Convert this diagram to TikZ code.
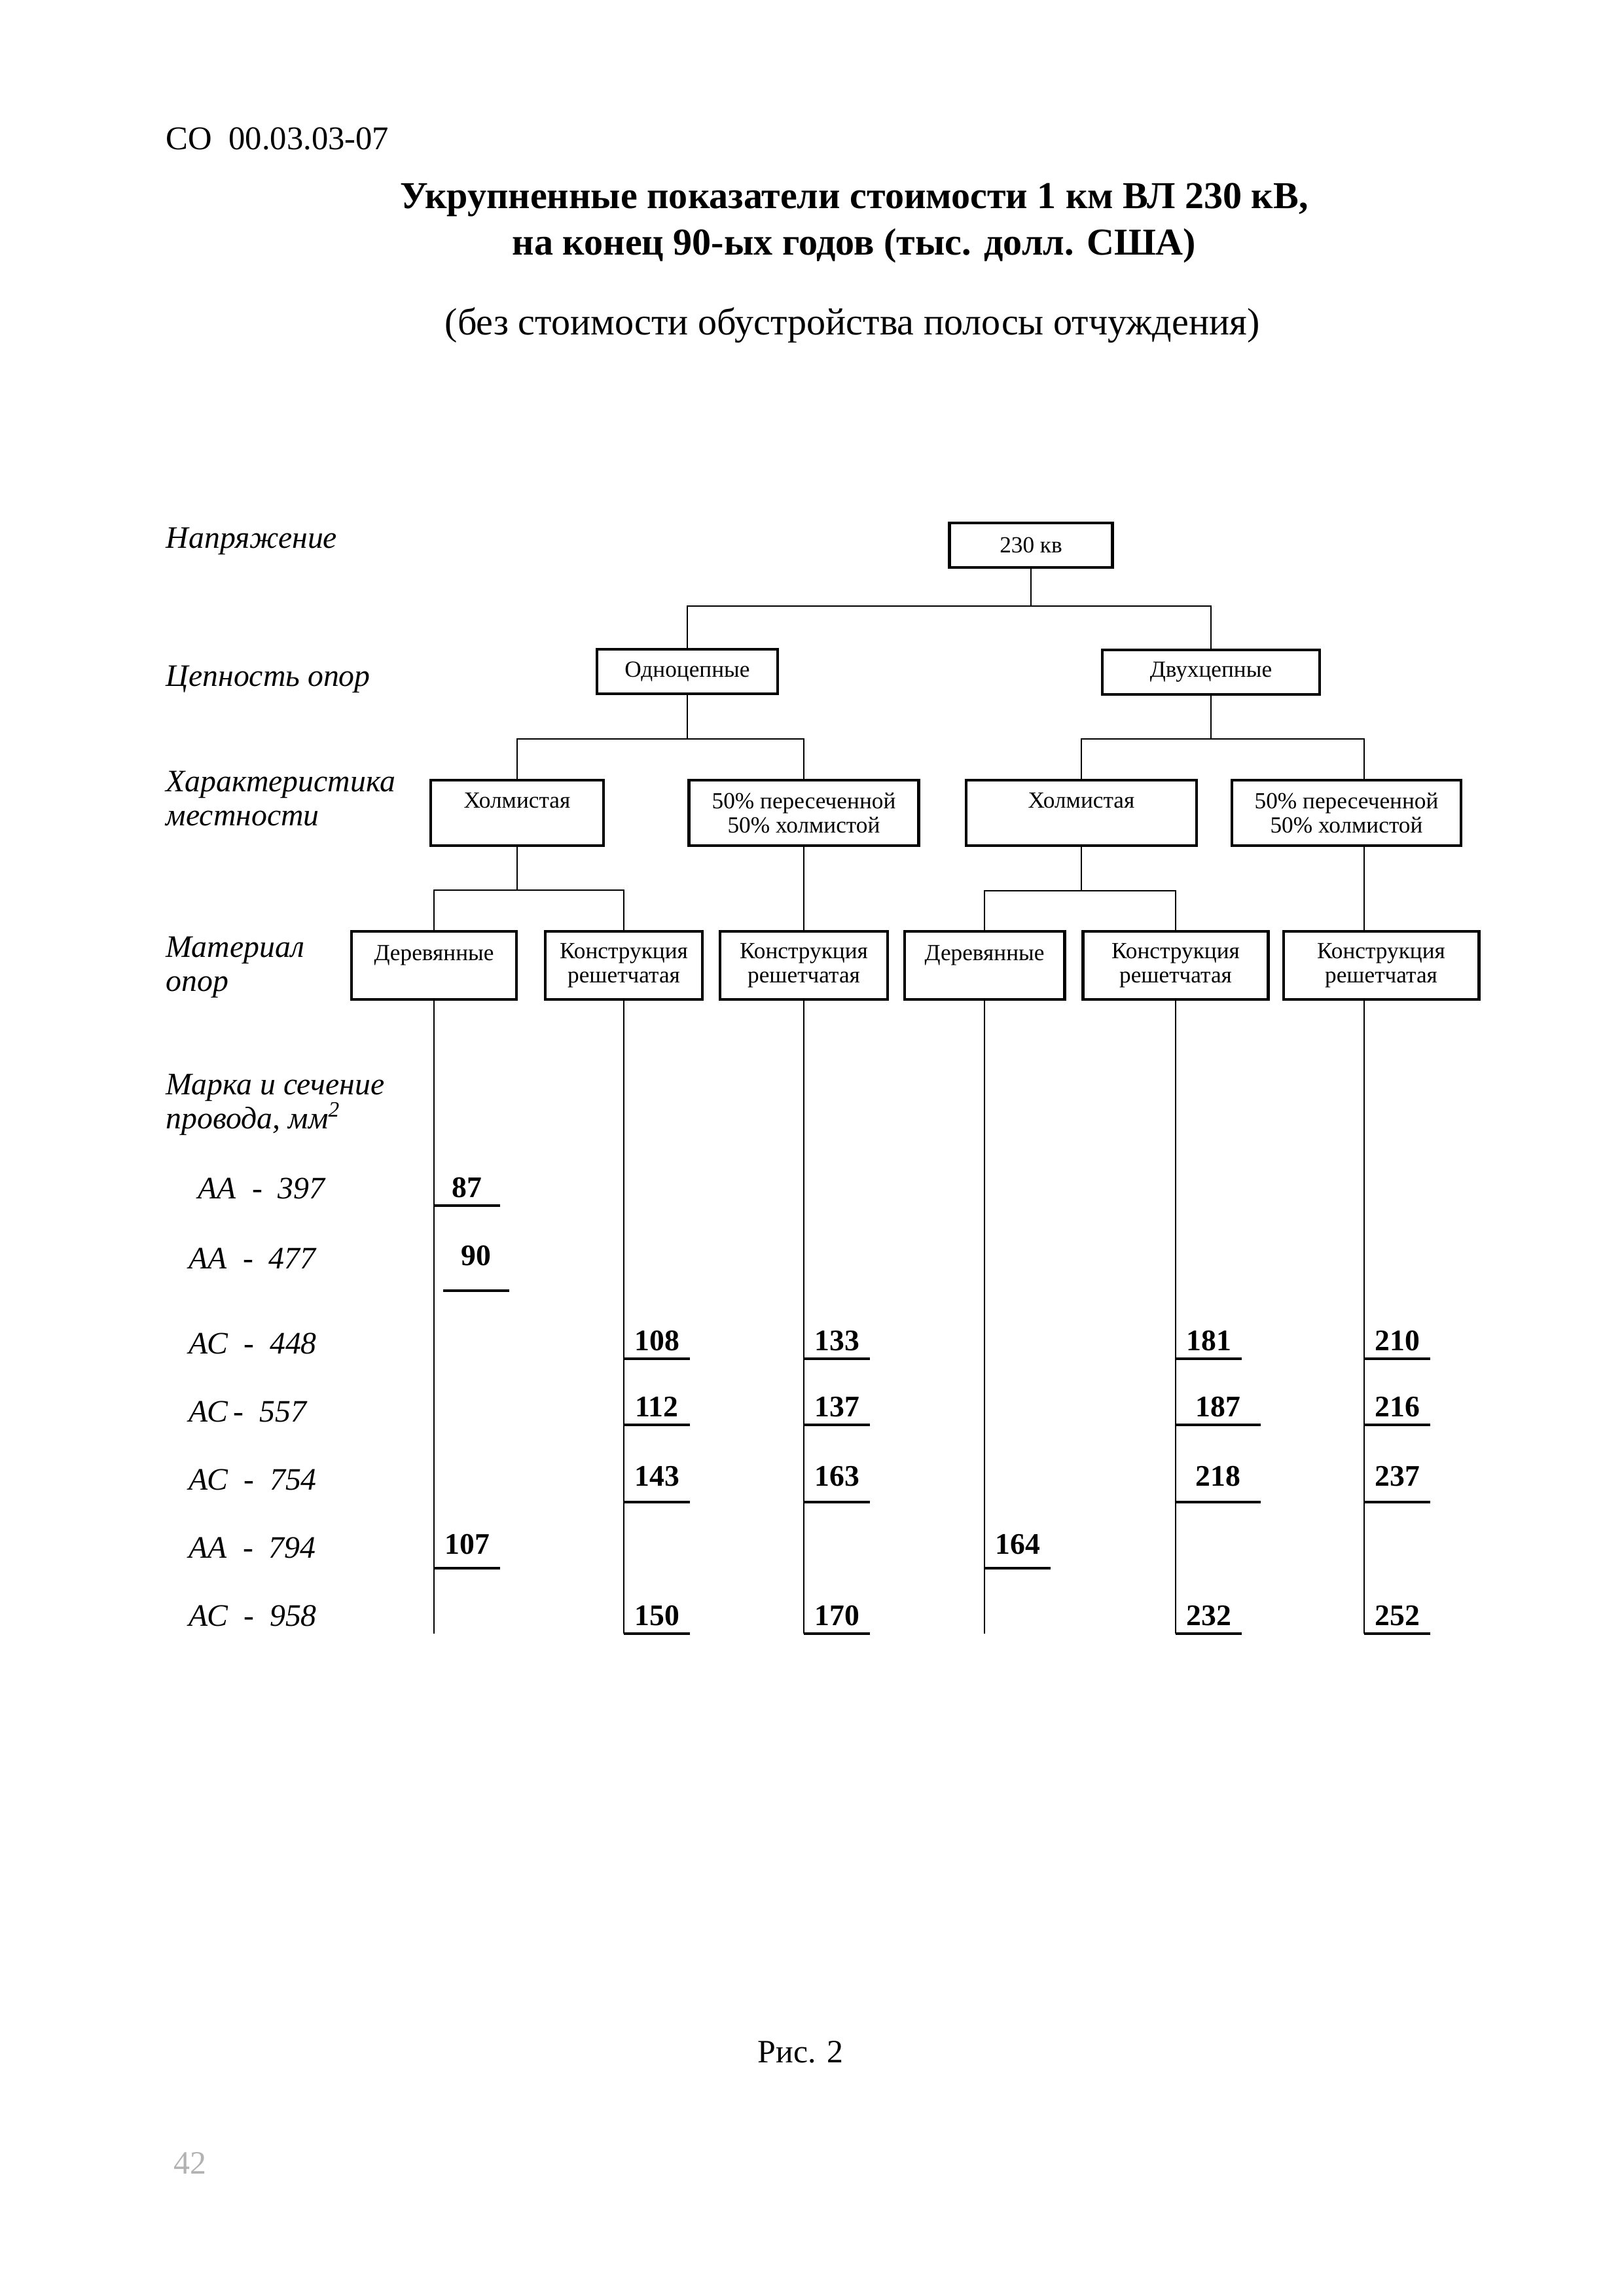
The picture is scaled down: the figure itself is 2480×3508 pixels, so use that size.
\documentclass[tikz,border=0pt]{standalone}
\usepackage{fontspec}
\setmainfont{Liberation Serif}

\begin{document}
\begin{tikzpicture}[
    x=0.0084677cm, y=-0.0084677cm,
    % Box Styles
    boxBase/.style = {rectangle, draw, line width=1pt, align=center, inner sep=1pt, font=\fontsize{8.5}{9}\selectfont},
    chainBox/.style = {boxBase, minimum height=16.4pt, minimum width=#1},
    landBox/.style = {boxBase, minimum height=24pt, minimum width=#1},
    matBox/.style = {boxBase, minimum height=25pt, minimum width=#1},
    % Text Styles
    rowHead/.style = {anchor=west, align=left, inner sep=0pt, font=\fontsize{11.5}{12.5}\itshape},
    wireText/.style = {anchor=base west, inner sep=0pt, font=\fontsize{11.5}{13}\itshape},
    valNum/.style = {anchor=south west, minimum width=24pt, inner xsep=0pt, inner ysep=#1, font=\fontsize{11}{13}\bfseries},
    valNum/.default = 2.8pt,
    % Line Styles
    treeLine/.style = {line width=0.6pt},
    valLine/.style = {line width=0.9pt}
]
    \useasboundingbox (0,0) rectangle (2480,3508);

    % ==========================================
    % HEADER
    % ==========================================
    \node[anchor=west, inner sep=0pt, font=\fontsize{12.2}{14}\selectfont] (docCode) at (253,212) {СО\ \ 00.03.03-07};
    \node[align=center, font=\fontsize{14}{17}\bfseries] (title) at (1305,341) {Укрупненные показатели стоимости 1 км ВЛ 230 кВ,\\ на конец 90-ых годов (тыс. долл. США)};
    \node[font=\fontsize{14}{17}\selectfont] (subTitle) at (1302,497) {(без стоимости обустройства полосы отчуждения)};

    % ==========================================
    % ROW HEADINGS
    % ==========================================
    \node[rowHead] (headVolt) at (253,827) {Напряжение};
    \node[rowHead] (headChain) at (253,1038) {Цепность опор};
    \node[rowHead] (headLand) at (253,1220) {Характеристика\\местности};
    \node[rowHead] (headMat) at (253,1478) {Материал\\опор};
    \node[rowHead] (headWire) at (253,1688) {Марка и сечение\\провода, мм\textsuperscript{2}};

    % ==========================================
    % TREE BOXES
    % ==========================================
    \node[chainBox=60pt] (volt) at (1575,833) {230 кв};

    \node[chainBox=66.5pt] (single) at (1050,1026) {Одноцепные};
    \node[chainBox=80pt] (double) at (1850,1027) {Двухцепные};

    \node[landBox=63.8pt] (hillA) at (790,1242) {Холмистая\\~};
    \node[landBox=84.6pt] (mixA) at (1228,1242) {50\% пересеченной\\50\% холмистой};
    \node[landBox=84.8pt] (hillB) at (1652,1242) {Холмистая\\~};
    \node[landBox=84.3pt] (mixB) at (2057,1242) {50\% пересеченной\\50\% холмистой};

    \node[matBox=60.7pt] (woodA) at (663,1475) {Деревянные\\~};
    \node[matBox=57.8pt] (latA) at (953,1475) {Конструкция\\решетчатая};
    \node[matBox=61.7pt] (latB) at (1228,1475) {Конструкция\\решетчатая};
    \node[matBox=59pt] (woodB) at (1504,1475) {Деревянные\\~};
    \node[matBox=68.2pt] (latC) at (1796,1475) {Конструкция\\решетчатая};
    \node[matBox=72pt] (latD) at (2110,1475) {Конструкция\\решетчатая};

    % line of the right-most branch
    \coordinate (lineD) at (2084,0);

    % tree connectors
    \draw[treeLine] (volt.south) -- ++(0,57) -| (single.north);
    \draw[treeLine] (volt.south) -- ++(0,57) -| (double.north);
    \draw[treeLine] (single.south) -- ++(0,67) -| (hillA.north);
    \draw[treeLine] (single.south) -- ++(0,67) -| (mixA.north);
    \draw[treeLine] (double.south) -- ++(0,66) -| (hillB.north);
    \draw[treeLine] (double.south) -- ++(0,66) -| (lineD |- mixB.north);
    \draw[treeLine] (hillA.south) -- ++(0,66) -| (woodA.north);
    \draw[treeLine] (hillA.south) -- ++(0,66) -| (latA.north);
    \draw[treeLine] (mixA.south) -- (latB.north);
    \draw[treeLine] (hillB.south) -- ++(0,67) -| (woodB.north);
    \draw[treeLine] (hillB.south) -- ++(0,67) -| (latC.north);
    \draw[treeLine] (lineD |- mixB.south) -- (lineD |- latD.north);

    % value columns
    \coordinate (colEnd) at (0,2496);
    \draw[treeLine] (woodA.south) -- (woodA.south |- colEnd);
    \draw[treeLine] (latA.south) -- (latA.south |- colEnd);
    \draw[treeLine] (latB.south) -- (latB.south |- colEnd);
    \draw[treeLine] (woodB.south) -- (woodB.south |- colEnd);
    \draw[treeLine] (latC.south) -- (latC.south |- colEnd);
    \draw[treeLine] (lineD |- latD.south) -- (lineD |- colEnd);

    % ==========================================
    % WIRE GRADES
    % ==========================================
    \node[wireText] (w397) at (302,1831) {АА\ \ -\ \ 397};
    \node[wireText] (w477) at (288,1938) {АА\ \ -\ \ 477};
    \node[wireText] (w448) at (288,2068) {АС\ \ -\ \ 448};
    \node[wireText] (w557) at (288,2172) {АС\,-\ \ 557};
    \node[wireText] (w754) at (288,2276) {АС\ \ -\ \ 754};
    \node[wireText] (w794) at (288,2380) {АА\ \ -\ \ 794};
    \node[wireText] (w958) at (288,2484) {АС\ \ -\ \ 958};

    % ==========================================
    % COST VALUES
    % ==========================================
    \node[valNum] (n87) at (663,1842) {87};   \draw[valLine] (n87.south west) -- (n87.south east);
    \node[valNum=8.9pt] (n90) at (677,1972) {90};   \draw[valLine] (n90.south west) -- (n90.south east);
    \node[valNum=4.8pt] (n107) at (663,2396) {107};   \draw[valLine] (n107.south west) -- (n107.south east);

    \node[valNum] (n108) at (953,2076) {108};   \draw[valLine] (n108.south west) -- (n108.south east);
    \node[valNum] (n112) at (953,2177) {112};   \draw[valLine] (n112.south west) -- (n112.south east);
    \node[valNum=5.5pt] (n143) at (953,2295) {143};   \draw[valLine] (n143.south west) -- (n143.south east);
    \node[valNum] (n150) at (953,2496) {150};   \draw[valLine] (n150.south west) -- (n150.south east);

    \node[valNum] (n133) at (1228,2076) {133};   \draw[valLine] (n133.south west) -- (n133.south east);
    \node[valNum] (n137) at (1228,2177) {137};   \draw[valLine] (n137.south west) -- (n137.south east);
    \node[valNum=5.5pt] (n163) at (1228,2295) {163};   \draw[valLine] (n163.south west) -- (n163.south east);
    \node[valNum] (n170) at (1228,2496) {170};   \draw[valLine] (n170.south west) -- (n170.south east);

    \node[valNum=4.8pt] (n164) at (1504,2396) {164};   \draw[valLine] (n164.south west) -- (n164.south east);

    \node[valNum] (n181) at (1796,2076) {181};   \draw[valLine] (n181.south west) -- (n181.south east);
    \node[valNum, minimum width=31pt] (n187) at (1796,2177) {187};   \draw[valLine] (n187.south west) -- (n187.south east);
    \node[valNum=5.5pt, minimum width=31pt] (n218) at (1796,2295) {218};   \draw[valLine] (n218.south west) -- (n218.south east);
    \node[valNum] (n232) at (1796,2496) {232};   \draw[valLine] (n232.south west) -- (n232.south east);

    \node[valNum] (n210) at (2084,2076) {210};   \draw[valLine] (n210.south west) -- (n210.south east);
    \node[valNum] (n216) at (2084,2177) {216};   \draw[valLine] (n216.south west) -- (n216.south east);
    \node[valNum=5.5pt] (n237) at (2084,2295) {237};   \draw[valLine] (n237.south west) -- (n237.south east);
    \node[valNum] (n252) at (2084,2496) {252};   \draw[valLine] (n252.south west) -- (n252.south east);

    % ==========================================
    % FOOTER
    % ==========================================
    \node[font=\fontsize{12}{14}\selectfont] (figCap) at (1223,3135) {Рис. 2};
    \node[font=\fontsize{12}{14}\selectfont, text=black!30] (pageNum) at (290,3305) {42};

\end{tikzpicture}
\end{document}
